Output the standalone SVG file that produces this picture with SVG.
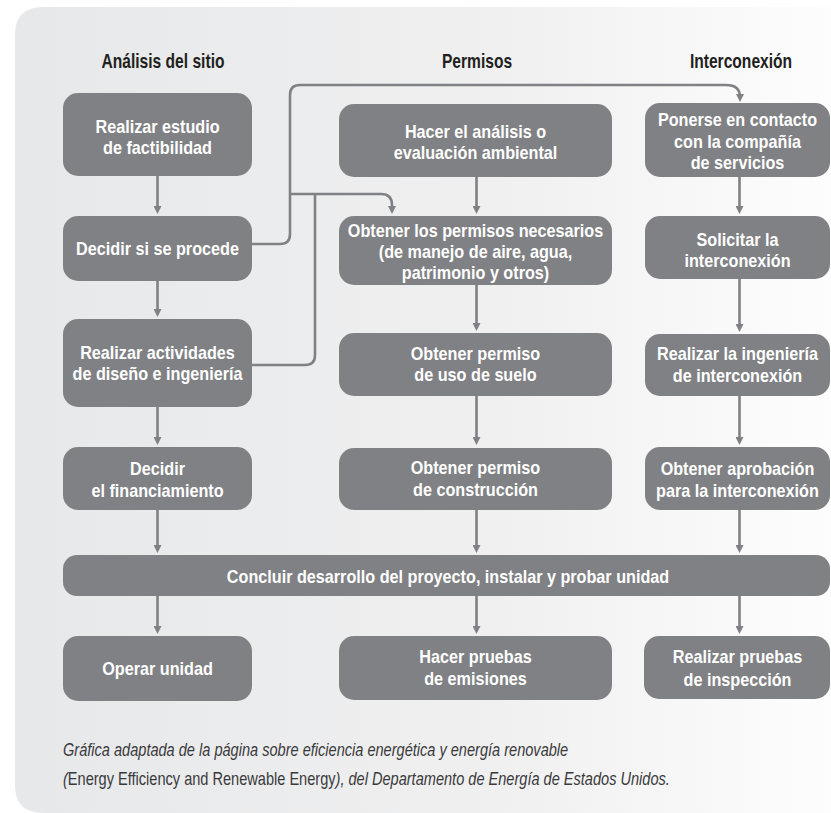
<svg xmlns="http://www.w3.org/2000/svg" width="831" height="813" viewBox="0 0 831 813">
<defs>
<linearGradient id="bg" x1="15" y1="0" x2="831" y2="0" gradientUnits="userSpaceOnUse">
<stop offset="0" stop-color="#e7e8e9"/>
<stop offset="0.6" stop-color="#f0f0f1"/>
<stop offset="1" stop-color="#fdfdfd"/>
</linearGradient>
<marker id="ah" viewBox="0 0 8 8" markerWidth="8" markerHeight="8" refX="3" refY="4" markerUnits="userSpaceOnUse" orient="auto">
<path d="M0,0 L8,4 L0,8 z" fill="#808184"/>
</marker>
</defs>
<style>
.box{fill:#808184;}
.t{font-family:"Liberation Sans",Arial,sans-serif;font-weight:bold;font-size:18.5px;fill:#ffffff;text-anchor:middle;}
.h{font-family:"Liberation Sans",Arial,sans-serif;font-weight:bold;font-size:20px;fill:#231f20;text-anchor:middle;}
.f{font-family:"Liberation Sans",Arial,sans-serif;font-size:18px;fill:#3a3a3c;font-style:italic;}
.f .u{font-style:normal;}
.c{fill:none;stroke:#808184;stroke-width:2.6;}
.c path{marker-end:url(#ah);}
</style>
<rect width="831" height="813" fill="#ffffff"/>
<path d="M15,35 Q15,7 43,7 H831 V813 H43 Q15,813 15,785 Z" fill="url(#bg)"/>

<g id="headers">
<text class="h" transform="translate(163,68) scale(0.78,1)">Análisis del sitio</text>
<text class="h" transform="translate(477,68) scale(0.78,1)">Permisos</text>
<text class="h" transform="translate(741,68) scale(0.78,1)">Interconexión</text>
</g>

<g id="connectors" class="c">
<path d="M157.5,176 V209"/>
<path d="M157.5,281 V312"/>
<path d="M157.5,407 V440"/>
<path d="M157.5,510 V548"/>
<path d="M157.5,596 V629"/>
<path d="M476.5,177 V209"/>
<path d="M476.5,285 V326"/>
<path d="M476.5,396 V440"/>
<path d="M476.5,510 V548"/>
<path d="M476.5,596 V629"/>
<path d="M739.5,177 V209"/>
<path d="M739.5,279 V327"/>
<path d="M739.5,396 V440"/>
<path d="M739.5,510 V548"/>
<path d="M739.5,596 V629"/>
<path d="M252,244 H280 Q290,244 290,234 V95 Q290,85 300,85 H726 Q740,85 740,97"/>
<path d="M290,194 H381 Q392,194 392,205 V209"/>
<path d="M252,365 H305 Q315,365 315,355 V194" style="marker-end:none"/>
</g>

<g id="a1"><rect class="box" x="63" y="93" width="189" height="83" rx="15"/>
<text class="t" transform="translate(157.5,133) scale(0.875,1)">Realizar estudio</text>
<text class="t" transform="translate(157.5,154) scale(0.875,1)">de factibilidad</text></g>
<g id="a2"><rect class="box" x="63" y="216" width="189" height="65" rx="15"/>
<text class="t" transform="translate(157.5,255) scale(0.875,1)">Decidir si se procede</text></g>
<g id="a3"><rect class="box" x="63" y="319" width="189" height="88" rx="15"/>
<text class="t" transform="translate(157.5,359) scale(0.875,1)">Realizar actividades</text>
<text class="t" transform="translate(157.5,380) scale(0.875,1)">de diseño e ingeniería</text></g>
<g id="a4"><rect class="box" x="63" y="447" width="189" height="63" rx="15"/>
<text class="t" transform="translate(157.5,475) scale(0.875,1)">Decidir</text>
<text class="t" transform="translate(157.5,497) scale(0.875,1)">el financiamiento</text></g>

<g id="b1"><rect class="box" x="339" y="104" width="273" height="73" rx="15"/>
<text class="t" transform="translate(475.5,138) scale(0.875,1)">Hacer el análisis o</text>
<text class="t" transform="translate(475.5,159) scale(0.875,1)">evaluación ambiental</text></g>
<g id="b2"><rect class="box" x="339" y="216" width="273" height="69" rx="15"/>
<text class="t" transform="translate(475.5,237) scale(0.875,1)">Obtener los permisos necesarios</text>
<text class="t" transform="translate(475.5,258) scale(0.875,1)">(de manejo de aire, agua,</text>
<text class="t" transform="translate(475.5,279) scale(0.875,1)">patrimonio y otros)</text></g>
<g id="b3"><rect class="box" x="339" y="333" width="273" height="63" rx="15"/>
<text class="t" transform="translate(475.5,360) scale(0.875,1)">Obtener permiso</text>
<text class="t" transform="translate(475.5,381) scale(0.875,1)">de uso de suelo</text></g>
<g id="b4"><rect class="box" x="339" y="448" width="273" height="62" rx="15"/>
<text class="t" transform="translate(475.5,474) scale(0.875,1)">Obtener permiso</text>
<text class="t" transform="translate(475.5,496) scale(0.875,1)">de construcción</text></g>

<g id="c1"><rect class="box" x="645" y="103" width="185" height="74" rx="15"/>
<text class="t" transform="translate(737.5,126) scale(0.875,1)">Ponerse en contacto</text>
<text class="t" transform="translate(737.5,148) scale(0.875,1)">con la compañía</text>
<text class="t" transform="translate(737.5,169) scale(0.875,1)">de servicios</text></g>
<g id="c2"><rect class="box" x="645" y="216" width="185" height="63" rx="15"/>
<text class="t" transform="translate(737.5,246) scale(0.875,1)">Solicitar la</text>
<text class="t" transform="translate(737.5,267) scale(0.875,1)">interconexión</text></g>
<g id="c3"><rect class="box" x="645" y="334" width="185" height="62" rx="15"/>
<text class="t" transform="translate(737.5,360) scale(0.875,1)">Realizar la ingeniería</text>
<text class="t" transform="translate(737.5,382) scale(0.875,1)">de interconexión</text></g>
<g id="c4"><rect class="box" x="645" y="447" width="185" height="63" rx="15"/>
<text class="t" transform="translate(737.5,475) scale(0.875,1)">Obtener aprobación</text>
<text class="t" transform="translate(737.5,497) scale(0.875,1)">para la interconexión</text></g>

<g id="concluir"><rect class="box" x="63" y="555" width="767" height="41" rx="14"/>
<text class="t" transform="translate(448,583) scale(0.875,1)">Concluir desarrollo del proyecto, instalar y probar unidad</text></g>

<g id="d1"><rect class="box" x="63" y="636" width="189" height="65" rx="15"/>
<text class="t" transform="translate(157.5,675) scale(0.875,1)">Operar unidad</text></g>
<g id="d2"><rect class="box" x="339" y="636" width="273" height="64" rx="15"/>
<text class="t" transform="translate(475.5,663) scale(0.875,1)">Hacer pruebas</text>
<text class="t" transform="translate(475.5,685) scale(0.875,1)">de emisiones</text></g>
<g id="d3"><rect class="box" x="644" y="636" width="186" height="63" rx="15"/>
<text class="t" transform="translate(737.5,663) scale(0.875,1)">Realizar pruebas</text>
<text class="t" transform="translate(737.5,686) scale(0.875,1)">de inspección</text></g>

<g id="footer">
<text class="f" transform="translate(63,756) scale(0.81,1)">Gráfica adaptada de la página sobre eficiencia energética y energía renovable</text>
<text class="f" transform="translate(63,785) scale(0.81,1)">(<tspan class="u">Energy Efficiency and Renewable Energy</tspan>), del Departamento de Energía de Estados Unidos.</text>
</g>
</svg>
